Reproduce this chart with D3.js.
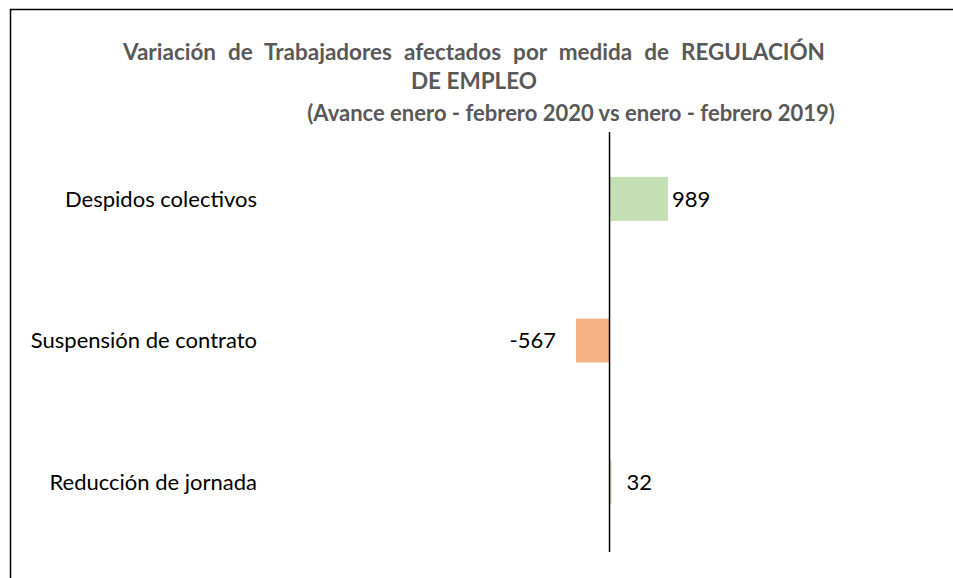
<!DOCTYPE html>
<html>
<head>
<meta charset="utf-8">
<script src="https://cdn.jsdelivr.net/npm/d3@7"></script>
<style>
  body { margin: 0; background: #fff; }
  text { font-family: Lato, "Open Sans", sans-serif; }
</style>
</head>
<body>
<div class="container"></div>
<script>
const WIDTH = 953;
const HEIGHT = 578;

// data
var categories = ["Despidos colectivos", "Suspensión de contrato", "Reducción de jornada"];
var values = [989, -567, 32];
var colors = ["#C5E0B4", "#F4B183", "#C5E0B4"];
var titleLines = [
  "Variación de Trabajadores  afectados por medida de REGULACIÓN",
  "DE EMPLEO"
];
var subtitle = "(Avance enero - febrero 2020 vs enero - febrero 2019)";

var svg = d3.select('.container').append('svg')
  .attr('width', WIDTH)
  .attr('height', HEIGHT);

// outer frame (left + top visible)
svg.append('path')
  .attr('d', 'M10.5,' + HEIGHT + ' V9.5 H' + WIDTH)
  .attr('fill', 'none')
  .attr('stroke', '#000')
  .attr('stroke-width', 1.5);

// title
svg.append('text')
  .attr('x', 474).attr('y', 52).attr('dy', '0.35em')
  .attr('text-anchor', 'middle')
  .attr('font-size', 22.5).attr('font-weight', 'bold')
  .attr('word-spacing', 6.5)
  .attr('fill', '#595959')
  .text(titleLines[0]);
svg.append('text')
  .attr('x', 474).attr('y', 81).attr('dy', '0.35em')
  .attr('text-anchor', 'middle')
  .attr('font-size', 22.5).attr('font-weight', 'bold')
  .attr('fill', '#595959')
  .text(titleLines[1]);
svg.append('text')
  .attr('x', 571).attr('y', 113).attr('dy', '0.35em')
  .attr('text-anchor', 'middle')
  .attr('font-size', 22).attr('font-weight', 'bold')
  .attr('fill', '#595959')
  .text(subtitle);

var xScale = d3.scaleLinear()
  .domain([-567, 989])
  .range([576, 668]);

var yScale = d3.scaleBand()
  .domain(categories)
  .range([128, 553])
  .paddingInner(0.69)
  .paddingOuter(0.345);

var x0 = xScale(0);

// bars
svg.selectAll('.bar')
  .data(values)
  .enter().append('rect')
  .attr('class', 'bar')
  .attr('x', function(d){ return Math.min(xScale(d), x0); })
  .attr('y', function(d, i){ return yScale(categories[i]); })
  .attr('width', function(d){ return Math.abs(xScale(d) - x0); })
  .attr('height', yScale.bandwidth())
  .attr('fill', function(d, i){ return colors[i]; });

// category labels
svg.selectAll('.cat')
  .data(categories)
  .enter().append('text')
  .attr('class', 'cat')
  .attr('x', 257)
  .attr('y', function(d){ return yScale(d) + yScale.bandwidth() / 2; })
  .attr('dy', '0.35em')
  .attr('text-anchor', 'end')
  .attr('font-size', 22)
  .attr('fill', '#000')
  .text(function(d){ return d; });

// value labels (tiny bars get a minimum gap from the axis)
svg.selectAll('.val')
  .data(values)
  .enter().append('text')
  .attr('class', 'val')
  .attr('x', function(d){ return d < 0 ? xScale(d) - 20 : Math.max(xScale(d), x0 + 13) + 4; })
  .attr('y', function(d, i){ return yScale(categories[i]) + yScale.bandwidth() / 2; })
  .attr('dy', '0.35em')
  .attr('text-anchor', function(d){ return d < 0 ? 'end' : 'start'; })
  .attr('font-size', 22)
  .attr('fill', '#000')
  .text(function(d){ return d; });

// zero axis
svg.append('line')
  .attr('x1', x0).attr('x2', x0)
  .attr('y1', 132).attr('y2', 552)
  .attr('stroke', '#000')
  .attr('stroke-width', 1.5);
</script>
</body>
</html>
